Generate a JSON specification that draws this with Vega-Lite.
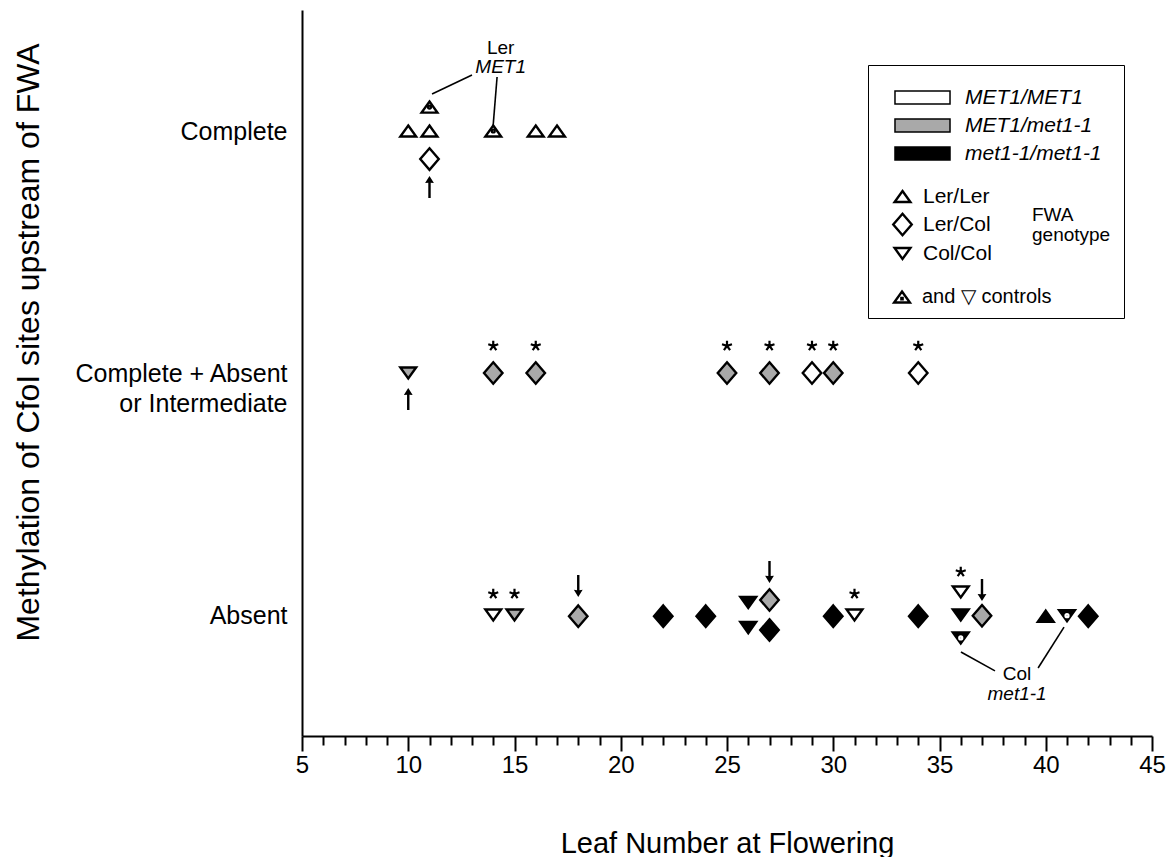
{
  "$schema": "https://vega.github.io/schema/vega-lite/v6.json",
  "width": 850,
  "height": 726,
  "autosize": {"type": "none"},
  "padding": {"left": 302, "top": 10, "right": 18, "bottom": 121},
  "background": "white",
  "config": {
    "view": {"stroke": null},
    "font": "Liberation Sans",
    "legend": {"labelFont": "Liberation Sans", "titleFont": "Liberation Sans", "labelColor": "black", "titleColor": "black"}
  },
  "datasets": {
    "points": [
      {"leaf": 10, "level": 3, "fwa": "Ler/Ler", "met1": "MET1/MET1"},
      {"leaf": 11, "level": 3, "fwa": "Ler/Ler", "met1": "MET1/MET1"},
      {"leaf": 11, "level": 3.099, "fwa": "Ler/Ler", "met1": "MET1/MET1", "control": "Ler MET1"},
      {"leaf": 11, "level": 2.884, "fwa": "Ler/Col", "met1": "MET1/MET1"},
      {"leaf": 14, "level": 3, "fwa": "Ler/Ler", "met1": "MET1/MET1", "control": "Ler MET1"},
      {"leaf": 16, "level": 3, "fwa": "Ler/Ler", "met1": "MET1/MET1"},
      {"leaf": 17, "level": 3, "fwa": "Ler/Ler", "met1": "MET1/MET1"},
      {"leaf": 10, "level": 2, "fwa": "Col/Col", "met1": "MET1/met1-1"},
      {"leaf": 14, "level": 2, "fwa": "Ler/Col", "met1": "MET1/met1-1"},
      {"leaf": 16, "level": 2, "fwa": "Ler/Col", "met1": "MET1/met1-1"},
      {"leaf": 25, "level": 2, "fwa": "Ler/Col", "met1": "MET1/met1-1"},
      {"leaf": 27, "level": 2, "fwa": "Ler/Col", "met1": "MET1/met1-1"},
      {"leaf": 29, "level": 2, "fwa": "Ler/Col", "met1": "MET1/MET1"},
      {"leaf": 30, "level": 2, "fwa": "Ler/Col", "met1": "MET1/met1-1"},
      {"leaf": 34, "level": 2, "fwa": "Ler/Col", "met1": "MET1/MET1"},
      {"leaf": 14, "level": 1, "fwa": "Col/Col", "met1": "MET1/MET1"},
      {"leaf": 15, "level": 1, "fwa": "Col/Col", "met1": "MET1/met1-1"},
      {"leaf": 18, "level": 0.995, "fwa": "Ler/Col", "met1": "MET1/met1-1"},
      {"leaf": 22, "level": 0.995, "fwa": "Ler/Col", "met1": "met1-1/met1-1"},
      {"leaf": 24, "level": 0.995, "fwa": "Ler/Col", "met1": "met1-1/met1-1"},
      {"leaf": 26, "level": 1.052, "fwa": "Col/Col", "met1": "met1-1/met1-1"},
      {"leaf": 26, "level": 0.948, "fwa": "Col/Col", "met1": "met1-1/met1-1"},
      {"leaf": 27, "level": 1.062, "fwa": "Ler/Col", "met1": "MET1/met1-1"},
      {"leaf": 27, "level": 0.938, "fwa": "Ler/Col", "met1": "met1-1/met1-1"},
      {"leaf": 30, "level": 0.995, "fwa": "Ler/Col", "met1": "met1-1/met1-1"},
      {"leaf": 31, "level": 1, "fwa": "Col/Col", "met1": "MET1/MET1"},
      {"leaf": 34, "level": 0.995, "fwa": "Ler/Col", "met1": "met1-1/met1-1"},
      {"leaf": 36, "level": 1.095, "fwa": "Col/Col", "met1": "MET1/MET1"},
      {"leaf": 36, "level": 1, "fwa": "Col/Col", "met1": "met1-1/met1-1"},
      {"leaf": 36, "level": 0.905, "fwa": "Col/Col", "met1": "met1-1/met1-1", "control": "Col met1-1"},
      {"leaf": 37, "level": 0.997, "fwa": "Ler/Col", "met1": "MET1/met1-1"},
      {"leaf": 40, "level": 0.995, "fwa": "Ler/Ler", "met1": "met1-1/met1-1"},
      {"leaf": 41, "level": 0.997, "fwa": "Col/Col", "met1": "met1-1/met1-1", "control": "Col met1-1"},
      {"leaf": 42, "level": 0.995, "fwa": "Ler/Col", "met1": "met1-1/met1-1"}
    ],
    "stars": [
      {"leaf": 14, "level": 2.112}, {"leaf": 16, "level": 2.112}, {"leaf": 25, "level": 2.112},
      {"leaf": 27, "level": 2.112}, {"leaf": 29, "level": 2.112}, {"leaf": 30, "level": 2.112},
      {"leaf": 34, "level": 2.112},
      {"leaf": 14, "level": 1.087}, {"leaf": 15, "level": 1.087}, {"leaf": 31, "level": 1.087},
      {"leaf": 36, "level": 1.178}
    ],
    "arrows": [
      {"leaf": 11, "level": 2.769, "dir": "up"},
      {"leaf": 10, "level": 1.893, "dir": "up"},
      {"leaf": 18, "level": 1.12, "dir": "down"},
      {"leaf": 27, "level": 1.178, "dir": "down"},
      {"leaf": 37, "level": 1.103, "dir": "down"}
    ],
    "leaders": [
      {"leaf": 11.12, "leaf2": 13.0, "level": 3.153, "level2": 3.231},
      {"leaf": 13.99, "leaf2": 14.18, "level": 3.017, "level2": 3.223},
      {"leaf": 36.01, "leaf2": 37.61, "level": 0.847, "level2": 0.769},
      {"leaf": 40.86, "leaf2": 39.64, "level": 0.95, "level2": 0.781}
    ],
    "notes": [
      {"leaf": 14.35, "level": 3.343, "text": "Ler", "kind": "strain"},
      {"leaf": 14.35, "level": 3.264, "text": "MET1", "kind": "allele"},
      {"leaf": 38.65, "level": 0.758, "text": "Col", "kind": "strain"},
      {"leaf": 38.65, "level": 0.674, "text": "met1-1", "kind": "allele"}
    ]
  },
  "encoding": {
    "x": {
      "field": "leaf", "type": "quantitative",
      "scale": {"domain": [5, 45], "nice": false, "zero": false},
      "axis": {
        "title": "Leaf Number at Flowering",
        "values": [5,6,7,8,9,10,11,12,13,14,15,16,17,18,19,20,21,22,23,24,25,26,27,28,29,30,31,32,33,34,35,36,37,38,39,40,41,42,43,44,45],
        "labelExpr": "datum.value % 5 === 0 ? datum.label : ''",
        "tickSize": {"condition": {"test": "datum.value % 5 === 0", "value": 15}, "value": 9},
        "tickWidth": 2, "tickColor": "black",
        "domainColor": "black", "domainWidth": 2,
        "grid": false,
        "labelFontSize": 24, "labelColor": "black", "labelPadding": 2,
        "labelFlush": false, "labelOverlap": false, "labelBound": false,
        "titleFontSize": 29, "titleFontWeight": "normal", "titleColor": "black",
        "titleY": 107, "titleBaseline": "middle"
      }
    },
    "y": {
      "field": "level", "type": "quantitative",
      "scale": {"domain": [0.5, 3.5], "nice": false, "zero": false},
      "axis": {
        "title": "Methylation of CfoI sites upstream of FWA",
        "values": [1, 2, 3],
        "labelExpr": "datum.value === 3 ? 'Complete' : datum.value === 2 ? ['Complete + Absent', 'or Intermediate'] : 'Absent'",
        "ticks": false, "tickSize": 0,
        "labelPadding": 15, "labelFontSize": 25, "labelColor": "black", "labelLineHeight": 30,
        "labelBaseline": "middle", "labelLimit": 0,
        "domainColor": "black", "domainWidth": 2,
        "grid": false,
        "titleFontSize": 32, "titleFontWeight": "normal", "titleColor": "black",
        "titleX": -274, "titleY": 332, "titleBaseline": "middle", "titleAlign": "center", "titleAngle": -90
      }
    }
  },
  "layer": [
    {
      "data": {"name": "leaders"},
      "mark": {"type": "rule", "color": "black", "strokeWidth": 1.6},
      "encoding": {
        "x2": {"field": "leaf2"},
        "y2": {"field": "level2"}
      }
    },
    {
      "data": {"name": "points"},
      "mark": {"type": "point", "filled": true, "stroke": "black", "strokeWidth": 2.4, "size": 250, "opacity": 1},
      "encoding": {
        "fill": {
          "field": "met1", "type": "nominal",
          "scale": {"domain": ["MET1/MET1", "MET1/met1-1", "met1-1/met1-1"], "range": ["white", "#a9a9a9", "black"]},
          "legend": {
            "orient": "none", "legendX": 566, "legendY": 55,
            "title": ["\u00a0\u00a0\u00a0\u00a0\u00a0\u00a0\u00a0\u00a0\u00a0\u00a0\u00a0\u00a0\u00a0\u00a0\u00a0\u00a0\u00a0\u00a0\u00a0\u00a0\u00a0\u00a0\u00a0\u00a0\u00a0\u00a0\u00a0\u00a0\u00a0\u00a0\u00a0\u00a0\u00a0\u00a0\u00a0\u00a0\u00a0\u00a0\u00a0\u00a0\u00a0", "\u00a0", "\u00a0", "\u00a0", "\u00a0"],
            "titleOrient": "bottom", "titleFontSize": 20, "titleLineHeight": 26, "titlePadding": 8, "titleLimit": 600,
            "padding": 22, "strokeColor": "black",
            "symbolType": "M-3.48,-0.82L3.48,-0.82L3.48,0.82L-3.48,0.82Z",
            "symbolSize": 250, "symbolOffset": 22,
            "symbolStrokeColor": "black", "symbolStrokeWidth": 1.5,
            "labelFontStyle": "italic", "labelFontSize": 21, "labelOffset": 32,
            "rowPadding": 6,
            "encode": {
              "legend": {"update": {"strokeWidth": {"value": 2}}},
              "symbols": {"update": {"stroke": {"signal": "datum.value === 'MET1/met1-1' ? '#b0b0b0' : 'black'"}, "strokeWidth": {"value": 1.5}}}
            }
          }
        },
        "shape": {
          "field": "fwa", "type": "nominal",
          "scale": {"domain": ["Ler/Ler", "Ler/Col", "Col/Col"], "range": ["M0,-0.7L1,0.7L-1,0.7Z", "M0,-1.36L1.17,0L0,1.36L-1.17,0Z", "M-1,-0.7L1,-0.7L0,0.7Z"]},
          "legend": {
            "orient": "none", "legendX": 590, "legendY": 176,
            "title": ["FWA", "genotype"], "titleOrient": "right", "titleFontSize": 19, "titleFontWeight": "normal",
            "titleAnchor": "middle", "titleBaseline": "middle", "titlePadding": 40, "titleLineHeight": 20,
            "labelFontSize": 21, "labelOffset": 10, "rowPadding": 1,
            "symbolSize": 250, "symbolFillColor": "white", "symbolStrokeColor": "black", "symbolStrokeWidth": 2.4,
            "encode": {"symbols": {"update": {"fill": {"value": "white"}, "stroke": {"value": "black"}, "strokeWidth": {"value": 2.4}}}}
          }
        }
      }
    },
    {
      "data": {"name": "points"},
      "transform": [{"filter": "isValid(datum.control)"}],
      "mark": {"type": "point", "filled": false, "shape": "circle", "size": 5, "strokeWidth": 3, "opacity": 1},
      "encoding": {
        "stroke": {
          "field": "control", "type": "nominal",
          "scale": {"domain": ["Ler MET1", "Col met1-1"], "range": ["black", "white"]},
          "legend": {
            "orient": "none", "legendX": 590, "legendY": 277,
            "title": null, "values": ["Ler MET1"],
            "labelExpr": "'and \u25bd   controls'",
            "labelFontSize": 20, "labelOffset": 10,
            "symbolSize": 250, "symbolStrokeWidth": 2.4, "symbolStrokeColor": "black", "symbolFillColor": "white",
            "symbolType": "M0,-0.7L1,0.7L-1,0.7ZM-0.08,0.12L0.08,0.12L0.08,0.28L-0.08,0.28Z",
            "encode": {"symbols": {"update": {
              "shape": {"value": "M0,-0.7L1,0.7L-1,0.7ZM-0.08,0.12L0.08,0.12L0.08,0.28L-0.08,0.28Z"},
              "size": {"value": 250}, "strokeWidth": {"value": 2.4}, "stroke": {"value": "black"}, "fill": {"value": "white"}}}}
          }
        }
      }
    },
    {
      "data": {"name": "stars"},
      "mark": {"type": "point", "filled": false, "shape": "M0,0L0,-1M0,0L0.951,-0.309M0,0L0.588,0.809M0,0L-0.588,0.809M0,0L-0.951,-0.309", "size": 110, "strokeWidth": 2.2, "color": "black", "opacity": 1}
    },
    {
      "data": {"name": "arrows"},
      "transform": [{"filter": "datum.dir === 'up'"}],
      "mark": {"type": "point", "filled": true, "shape": "M0,-1L0.4,-0.35L0.11,-0.38L0.11,1L-0.11,1L-0.11,-0.38L-0.4,-0.35Z", "size": 484, "color": "black", "opacity": 1}
    },
    {
      "data": {"name": "arrows"},
      "transform": [{"filter": "datum.dir === 'down'"}],
      "mark": {"type": "point", "filled": true, "shape": "M0,1L0.4,0.35L0.11,0.38L0.11,-1L-0.11,-1L-0.11,0.38L-0.4,0.35Z", "size": 484, "color": "black", "opacity": 1}
    },
    {
      "data": {"name": "notes"},
      "transform": [{"filter": "datum.kind === 'strain'"}],
      "mark": {"type": "text", "fontSize": 19, "color": "black", "align": "center", "baseline": "middle"},
      "encoding": {"text": {"field": "text"}}
    },
    {
      "data": {"name": "notes"},
      "transform": [{"filter": "datum.kind === 'allele'"}],
      "mark": {"type": "text", "fontSize": 19, "fontStyle": "italic", "color": "black", "align": "center", "baseline": "middle"},
      "encoding": {"text": {"field": "text"}}
    }
  ]
}
